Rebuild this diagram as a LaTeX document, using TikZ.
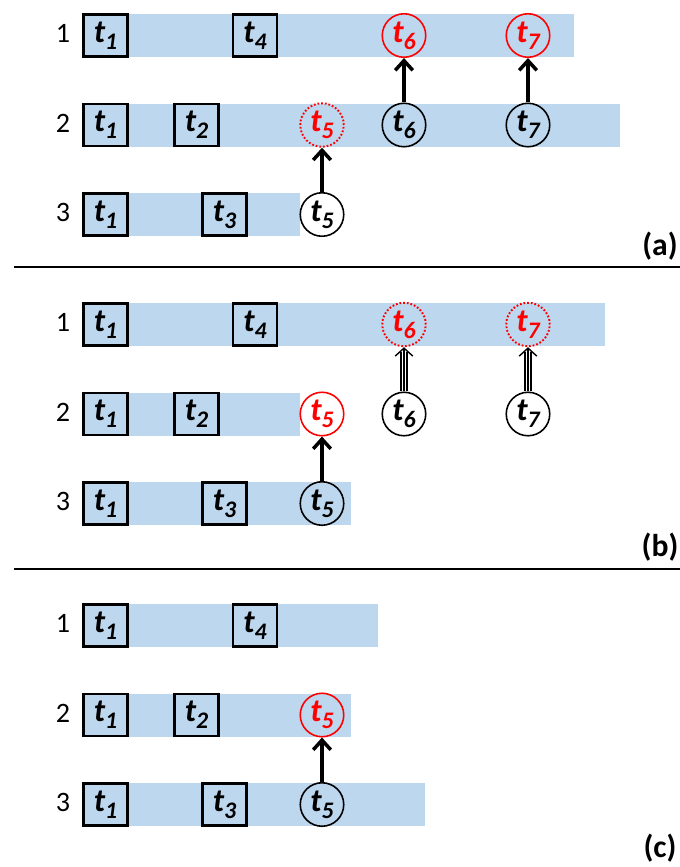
\documentclass[tikz,border=0pt]{standalone}
\usepackage{fontspec}
\setmainfont{Carlito}
\usetikzlibrary{arrows.meta}
\definecolor{laneBlue}{HTML}{BDD7EE}
\definecolor{moveRed}{HTML}{FF0000}
\newcommand{\tsk}[1]{{\fontsize{18.5}{18.5}\selectfont\bfseries\itshape t\raisebox{-0.45ex}{\fontsize{13.5}{13.5}\selectfont #1}}}
\tikzset{
  lane/.style={fill=laneBlue},
  taskbox/.style={draw, line width=1.3pt, fill=laneBlue, minimum width=0.88cm, minimum height=0.84cm, inner sep=0pt},
  taskcirc/.style={circle, draw, line width=0.9pt, minimum size=0.87cm, inner sep=0pt},
  newcirc/.style={taskcirc, draw=moveRed, text=moveRed},
  oldcirc/.style={newcirc, dash pattern=on 1pt off 1.1pt, line width=1.1pt},
  rowlabel/.style={font=\fontsize{16}{16}\selectfont},
  panellabel/.style={font=\fontsize{18}{18}\selectfont\bfseries},
  movearrow/.style={-{Straight Barb[length=5.5pt,width=10pt]}, line width=2pt},
  copyshaft/.style={line width=0.7pt, double distance=2.6pt, shorten >=2.5pt},
  copyhead/.style={-{Straight Barb[length=4.5pt,width=10pt]}, line width=0.8pt},
  divider/.style={line width=1.3pt}
}

\begin{document}
\begin{tikzpicture}[x=0.02cm, y=-0.02cm]
  \useasboundingbox (0,0) rectangle (680,867);

  % ---- (a) ----
  \fill[lane] (83,14) rectangle (574,57);
  \fill[lane] (83,103.5) rectangle (620,146.5);
  \fill[lane] (83,193) rectangle (300,236);

  \node[rowlabel] (a1) at (63,33.5) {1};
  \node[rowlabel] (a2) at (63,123) {2};
  \node[rowlabel] (a3) at (63,212.5) {3};

  \node[taskbox] (a1t1) at (105.5,35.5) {\tsk{1}};
  \node[taskbox] (a1t4) at (255,35.5) {\tsk{4}};
  \node[newcirc] (a1t6) at (404,35.5) {\tsk{6}};
  \node[newcirc] (a1t7) at (528,35.5) {\tsk{7}};

  \node[taskbox] (a2t1) at (105.5,125) {\tsk{1}};
  \node[taskbox] (a2t2) at (196.5,125) {\tsk{2}};
  \node[oldcirc] (a2t5) at (322,125) {\tsk{5}};
  \node[taskcirc] (a2t6) at (404,125) {\tsk{6}};
  \node[taskcirc] (a2t7) at (528,125) {\tsk{7}};

  \node[taskbox] (a3t1) at (105.5,214.5) {\tsk{1}};
  \node[taskbox] (a3t3) at (224.5,214.5) {\tsk{3}};
  \node[taskcirc, fill=white] (a3t5) at (322,214.5) {\tsk{5}};

  \draw[movearrow] (a3t5) -- (a2t5);
  \draw[movearrow] (a2t6) -- (a1t6);
  \draw[movearrow] (a2t7) -- (a1t7);

  \node[panellabel] (pa) at (660,246) {(a)};
  \draw[divider] (14,267) -- (680,267);

  % ---- (b) ----
  \fill[lane] (83,303) rectangle (605,346);
  \fill[lane] (83,392.5) rectangle (300,435.5);
  \fill[lane] (83,482) rectangle (351,525);

  \node[rowlabel] (b1) at (63,322.5) {1};
  \node[rowlabel] (b2) at (63,412) {2};
  \node[rowlabel] (b3) at (63,501.5) {3};

  \node[taskbox] (b1t1) at (105.5,324.5) {\tsk{1}};
  \node[taskbox] (b1t4) at (255,324.5) {\tsk{4}};
  \node[oldcirc] (b1t6) at (404,324.5) {\tsk{6}};
  \node[oldcirc] (b1t7) at (528,324.5) {\tsk{7}};

  \node[taskbox] (b2t1) at (105.5,414) {\tsk{1}};
  \node[taskbox] (b2t2) at (196.5,414) {\tsk{2}};
  \node[newcirc, fill=white] (b2t5) at (322,414) {\tsk{5}};
  \node[taskcirc, fill=white] (b2t6) at (404,414) {\tsk{6}};
  \node[taskcirc, fill=white] (b2t7) at (528,414) {\tsk{7}};

  \node[taskbox] (b3t1) at (105.5,503.5) {\tsk{1}};
  \node[taskbox] (b3t3) at (224.5,503.5) {\tsk{3}};
  \node[taskcirc] (b3t5) at (322,503.5) {\tsk{5}};

  \draw[movearrow] (b3t5) -- (b2t5);
  \draw[copyshaft] (b2t6) -- (b1t6);
  \draw[copyhead] (b2t6) -- (b1t6);
  \draw[copyshaft] (b2t7) -- (b1t7);
  \draw[copyhead] (b2t7) -- (b1t7);

  \node[panellabel] (pb) at (660,547) {(b)};
  \draw[divider] (14,569) -- (680,569);

  % ---- (c) ----
  \fill[lane] (83,604) rectangle (378,647);
  \fill[lane] (83,693.5) rectangle (351,736.5);
  \fill[lane] (83,783) rectangle (425,826);

  \node[rowlabel] (c1) at (63,623.5) {1};
  \node[rowlabel] (c2) at (63,713) {2};
  \node[rowlabel] (c3) at (63,802.5) {3};

  \node[taskbox] (c1t1) at (105.5,625.5) {\tsk{1}};
  \node[taskbox] (c1t4) at (255,625.5) {\tsk{4}};

  \node[taskbox] (c2t1) at (105.5,715) {\tsk{1}};
  \node[taskbox] (c2t2) at (196.5,715) {\tsk{2}};
  \node[newcirc] (c2t5) at (322,715) {\tsk{5}};

  \node[taskbox] (c3t1) at (105.5,804.5) {\tsk{1}};
  \node[taskbox] (c3t3) at (224.5,804.5) {\tsk{3}};
  \node[taskcirc] (c3t5) at (322,804.5) {\tsk{5}};

  \draw[movearrow] (c3t5) -- (c2t5);

  \node[panellabel] (pc) at (660,848) {(c)};
\end{tikzpicture}
\end{document}
